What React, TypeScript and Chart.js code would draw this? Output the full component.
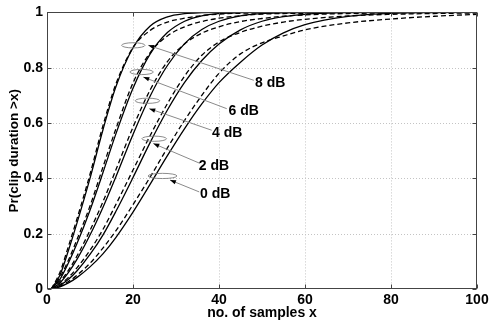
import React, { useEffect, useRef } from 'react';
import { Chart, registerables } from 'chart.js';

Chart.register(...registerables);

// ---- data ----
const samples = [1, 3, 5, 7, 10, 13, 16, 20, 24, 28, 32, 36, 40, 45, 50, 55, 60, 70, 80, 90, 100];

const sim0dB = [0, 0.008, 0.022, 0.042, 0.08, 0.127, 0.186, 0.278, 0.379, 0.482, 0.58, 0.669, 0.746, 0.82, 0.882, 0.926, 0.956, 0.986, 0.9964, 0.9992, 0.9999];
const sim2dB = [0, 0.013, 0.035, 0.066, 0.125, 0.195, 0.28, 0.403, 0.53, 0.647, 0.747, 0.826, 0.886, 0.937, 0.968, 0.9845, 0.9931, 0.9989, 0.9999, 1, 1];
const sim4dB = [0, 0.022, 0.06, 0.108, 0.195, 0.295, 0.405, 0.559, 0.698, 0.808, 0.887, 0.938, 0.968, 0.9876, 0.9957, 0.9986, 0.9996, 1, 1, 1, 1];
const sim6dB = [0, 0.035, 0.095, 0.165, 0.285, 0.42, 0.56, 0.726, 0.85, 0.927, 0.968, 0.9877, 0.9957, 0.999, 1, 1, 1, 1, 1, 1, 1];
const sim8dB = [0, 0.05, 0.14, 0.24, 0.4, 0.575, 0.73, 0.872, 0.951, 0.984, 0.9958, 0.9991, 1, 1, 1, 1, 1, 1, 1, 1, 1];

const theo0dB = [0, 0.01, 0.027, 0.05, 0.093, 0.148, 0.21, 0.305, 0.405, 0.51, 0.61, 0.7, 0.78, 0.85, 0.89, 0.915, 0.937, 0.962, 0.976, 0.986, 0.993];
const theo2dB = [0, 0.016, 0.042, 0.077, 0.14, 0.215, 0.305, 0.43, 0.555, 0.67, 0.77, 0.845, 0.893, 0.928, 0.95, 0.965, 0.975, 0.987, 0.993, 0.996, 0.998];
const theo4dB = [0, 0.027, 0.068, 0.12, 0.212, 0.315, 0.43, 0.585, 0.72, 0.822, 0.886, 0.925, 0.948, 0.967, 0.978, 0.986, 0.991, 0.996, 0.998, 0.999, 0.9995];
const theo6dB = [0, 0.042, 0.105, 0.18, 0.3, 0.44, 0.578, 0.745, 0.855, 0.915, 0.948, 0.967, 0.979, 0.988, 0.994, 0.996, 0.997, 0.999, 1, 1, 1];
const theo8dB = [0, 0.06, 0.155, 0.255, 0.415, 0.59, 0.74, 0.873, 0.935, 0.965, 0.979, 0.988, 0.994, 0.997, 0.998, 0.999, 1, 1, 1, 1, 1];

const xTicks = [0, 20, 40, 60, 80, 100];
const yTicks = [0, 0.2, 0.4, 0.6, 0.8, 1];

const snrLabels = ['8 dB', '6 dB', '4 dB', '2 dB', '0 dB'];
const ellipseX = [20.07, 22.0, 23.37, 24.93, 26.86];
const ellipseY = [0.881, 0.7845, 0.6805, 0.5433, 0.4087];
const arrowTipX = [23.56, 22.4, 23.79, 24.72, 28.6];
const arrowTipY = [0.881, 0.766, 0.652, 0.526, 0.394];
const leaderEndX = [48.1, 41.8, 38.3, 35.6, 35.4];
const leaderEndY = [0.7545, 0.652, 0.574, 0.454, 0.351];
const labelX = [48.4, 42.2, 38.4, 35.3, 35.6];
const labelY = [0.746, 0.644, 0.564, 0.444, 0.343];

const FONT = "'Liberation Sans', Arial, Helvetica, sans-serif";

function series(ys: number[], dashed: boolean) {
  return {
    data: samples.map((x, i) => ({ x, y: ys[i] })),
    borderColor: '#000',
    borderWidth: 1.3,
    borderDash: dashed ? [5, 3] : [],
    pointRadius: 0,
    fill: false,
    cubicInterpolationMode: 'monotone' as const,
  };
}

const framePlugin = {
  id: 'frame',
  beforeDatasetsDraw(chart: any) {
    const { ctx, chartArea: a, scales } = chart;
    ctx.save();
    ctx.strokeStyle = '#c4c4c4';
    ctx.lineWidth = 1;
    ctx.setLineDash([1, 2]);
    xTicks.forEach((v) => {
      if (v === 0 || v === 100) return;
      const px = Math.round(scales.x.getPixelForValue(v)) + 0.5;
      ctx.beginPath();
      ctx.moveTo(px, a.top);
      ctx.lineTo(px, a.bottom);
      ctx.stroke();
    });
    yTicks.forEach((v) => {
      if (v === 0 || v === 1) return;
      const py = Math.round(scales.y.getPixelForValue(v)) + 0.5;
      ctx.beginPath();
      ctx.moveTo(a.left, py);
      ctx.lineTo(a.right, py);
      ctx.stroke();
    });
    ctx.restore();
  },
  afterDatasetsDraw(chart: any) {
    const { ctx, chartArea: a, scales } = chart;
    const sx = scales.x, sy = scales.y;
    ctx.save();
    for (let i = 0; i < snrLabels.length; i++) {
      const cx = sx.getPixelForValue(ellipseX[i]);
      const cy = sy.getPixelForValue(ellipseY[i]);
      const rx = i === 4 ? 14.5 : i >= 2 ? 12.3 : 11.7;
      ctx.beginPath();
      ctx.ellipse(cx, cy, rx, 2.6, 0, 0, Math.PI * 2);
      ctx.strokeStyle = '#808080';
      ctx.lineWidth = 0.9;
      ctx.stroke();
      const tx = sx.getPixelForValue(arrowTipX[i]);
      const ty = sy.getPixelForValue(arrowTipY[i]);
      const lx = sx.getPixelForValue(leaderEndX[i]);
      const ly = sy.getPixelForValue(leaderEndY[i]);
      ctx.beginPath();
      ctx.moveTo(lx, ly);
      ctx.lineTo(tx, ty);
      ctx.strokeStyle = '#8a8a8a';
      ctx.lineWidth = 1;
      ctx.stroke();
      const ang = Math.atan2(ty - ly, tx - lx);
      const L = 6, W = 2.2;
      const c = Math.cos(ang), s = Math.sin(ang);
      ctx.beginPath();
      ctx.moveTo(tx, ty);
      ctx.lineTo(tx - L * c + W * s, ty - L * s - W * c);
      ctx.lineTo(tx - L * c - W * s, ty - L * s + W * c);
      ctx.closePath();
      ctx.fillStyle = '#000';
      ctx.fill();
      ctx.font = `bold 14px ${FONT}`;
      ctx.textAlign = 'left';
      ctx.textBaseline = 'middle';
      ctx.fillText(snrLabels[i], sx.getPixelForValue(labelX[i]), sy.getPixelForValue(labelY[i]));
    }
    const L0 = Math.round(a.left) + 0.5, R0 = Math.round(a.right) - 0.5;
    const T0 = Math.round(a.top) + 0.5, B0 = Math.round(a.bottom) - 0.5;
    ctx.strokeStyle = '#444';
    ctx.lineWidth = 1;
    ctx.setLineDash([]);
    ctx.strokeRect(L0, T0, R0 - L0, B0 - T0);
    const tl = 4;
    xTicks.forEach((v) => {
      const px = Math.round(sx.getPixelForValue(v)) + 0.5;
      ctx.beginPath();
      ctx.moveTo(px, B0);
      ctx.lineTo(px, B0 - tl);
      ctx.moveTo(px, T0);
      ctx.lineTo(px, T0 + tl);
      ctx.stroke();
    });
    yTicks.forEach((v) => {
      const py = Math.round(sy.getPixelForValue(v)) + 0.5;
      ctx.beginPath();
      ctx.moveTo(L0, py);
      ctx.lineTo(L0 + tl, py);
      ctx.moveTo(R0, py);
      ctx.lineTo(R0 - tl, py);
      ctx.stroke();
    });
    ctx.restore();
  },
};

export default function App() {
  const ref = useRef<HTMLCanvasElement | null>(null);
  useEffect(() => {
    document.body.style.margin = '0';
    const canvas = ref.current!;
    const tickFont = { family: FONT, size: 14, weight: 'bold' as const };
    const yTitleFont = { family: FONT, size: 13.5, weight: 'bold' as const };
    const chart = new Chart(canvas, {
      type: 'line',
      data: {
        datasets: [
          series(sim8dB, false), series(theo8dB, true),
          series(sim6dB, false), series(theo6dB, true),
          series(sim4dB, false), series(theo4dB, true),
          series(sim2dB, false), series(theo2dB, true),
          series(sim0dB, false), series(theo0dB, true),
        ],
      },
      options: {
        responsive: false,
        animation: false,
        devicePixelRatio: 1,
        layout: { padding: { top: 12, right: 21, left: 0, bottom: 0 } },
        plugins: { legend: { display: false }, tooltip: { enabled: false } },
        scales: {
          x: {
            type: 'linear',
            min: 0,
            max: 100,
            afterBuildTicks: (s: any) => { s.ticks = xTicks.map((v) => ({ value: v })); },
            afterFit: (s: any) => { s.height = 33; },
            grid: { display: false, drawTicks: false },
            border: { display: false },
            ticks: { color: '#000', padding: 3, maxRotation: 0, font: tickFont, callback: (v: any) => String(v) },
            title: { display: true, text: 'no. of samples x', color: '#000', padding: { top: 0, bottom: 0.6 }, font: tickFont },
          },
          y: {
            type: 'linear',
            min: 0,
            max: 1,
            afterBuildTicks: (s: any) => { s.ticks = yTicks.map((v) => ({ value: v })); },
            afterFit: (s: any) => { s.width = 47; },
            grid: { display: false, drawTicks: false },
            border: { display: false },
            ticks: { color: '#000', padding: 4, font: tickFont, callback: (v: any) => String(v) },
            title: { display: true, text: 'Pr(clip duration >x)', color: '#000', padding: { top: 6, bottom: 0 }, font: yTitleFont },
          },
        },
      },
      plugins: [framePlugin],
    } as any);
    return () => chart.destroy();
  }, []);
  return <canvas ref={ref} width={498} height={322} style={{ display: 'block' }} />;
}
